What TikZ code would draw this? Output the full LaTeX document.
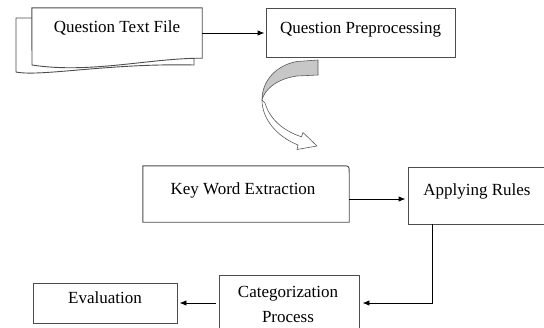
\documentclass[tikz,border=0pt]{standalone}
\usepackage{fontspec}
\setmainfont{Liberation Serif}
\usetikzlibrary{arrows.meta}
\begin{document}
\begin{tikzpicture}[x=1pt,y=-1pt,
  boxline/.style={draw=black!70, line width=0.9pt},
  box/.style={boxline, rectangle, inner sep=0pt},
  hidden/.style={rectangle, inner sep=0pt, draw=none},
  lbl/.style={anchor=base, inner sep=0pt, font=\fontsize{17}{20}\selectfont},
  arr/.style={draw=black, line width=0.9pt, -{Latex[length=7pt,width=5.5pt]}},
  ribbon/.style={draw=black!65, line width=0.6pt, line join=round}]
\useasboundingbox (0,0) rectangle (544,327);

% document shape
\node[hidden, minimum width=170pt, minimum height=50pt] (qtfbox) at (117,33) {};
\draw[boxline, fill=white] (32,18) -- (16,18) -- (16,72)
  .. controls (40,77) and (110,63) .. (194,65) -- (194,58);
\draw[boxline, fill=white] (qtfbox.south east) -- (qtfbox.north east) -- (qtfbox.north west) -- (32,65)
  .. controls (90,74) and (150,58) .. (qtfbox.south east) -- cycle;
\node[lbl] (qtft) at (117,32) {Question Text File};

\node[box, minimum width=189pt, minimum height=49pt] (qpp) at (360.5,32.5) {};
\node[lbl] (qppt) at (360.5,33) {Question Preprocessing};

% curved arrow
\draw[ribbon, fill=black!22] (318,60) -- (297,61.5) .. controls (277,65) and (262,80) .. (262,100)
  .. controls (264,91) and (275,79) .. (297,76) -- (318,75) -- cycle;
\draw[ribbon, fill=white] (262,100) .. controls (262,120) and (278,137) .. (298,145)
  -- (297,149.5) -- (317,146) -- (303,132.5) -- (301.5,136.8)
  .. controls (284,131) and (270,120) .. (265,103) -- cycle;

% key word extraction
\node[hidden, minimum width=206pt, minimum height=56pt] (kwe) at (246,194) {};
\draw[boxline] (kwe.south west) -- (kwe.north west) -- ([xshift=-7pt]kwe.north east)
  .. controls (kwe.north east) .. ([yshift=-7pt]kwe.north east) -- (kwe.south east) -- cycle;
\node[lbl] (kwet) at (243,194.5) {Key Word Extraction};

\node[box, minimum width=142pt, minimum height=57pt] (ar) at (479,195.5) {};
\node[lbl] (art) at (477,195) {Applying Rules};

\node[box, minimum width=140pt, minimum height=56pt] (cp) at (289,303) {};
\node[lbl] (cpt1) at (288,297) {Categorization};
\node[lbl] (cpt2) at (288,322) {Process};

\node[box, minimum width=144pt, minimum height=40pt] (ev) at (105,303) {};
\node[lbl] (evt) at (105,303) {Evaluation};

% connectors
\draw[arr, shorten >=1pt] (qtfbox.east) -- (qtfbox.east -| qpp.west);
\draw[arr, shorten >=2pt] ([yshift=-5pt]kwe.east) -- ([yshift=-5pt]kwe.east -| ar.west);
\draw[arr, shorten >=3pt] ([xshift=25pt]ar.south west) |- (cp.east);
\draw[arr, shorten <=3pt, shorten >=2pt] (cp.west) -- (ev.east);
\end{tikzpicture}
\end{document}
